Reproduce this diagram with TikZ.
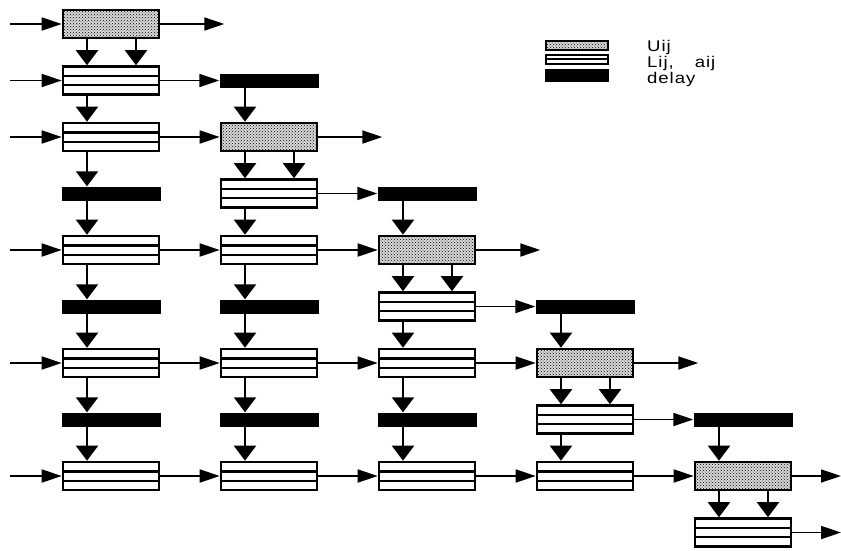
\documentclass[tikz,border=0pt]{standalone}
\usepackage{fontspec}
\setmainfont{Liberation Sans}
\newfontfamily\legendfont[LetterSpace=6,FakeStretch=1.2]{Liberation Sans}
\usetikzlibrary{arrows.meta,patterns}

\tikzset{
  blk/.style={rectangle, draw, line width=2.6pt, minimum width=96pt,
    minimum height=28pt, inner sep=0pt},
  ubox/.style={blk, fill=gray!30, postaction={pattern=crosshatch dots}},
  lbox/.style={blk, fill=white, path picture={
    \draw[line width=2.4pt] ([yshift=-9.3pt]path picture bounding box.north west)
      -- ([yshift=-9.3pt]path picture bounding box.north east);
    \draw[line width=2.4pt] ([yshift=9.3pt]path picture bounding box.south west)
      -- ([yshift=9.3pt]path picture bounding box.south east);}},
  dly/.style={rectangle, fill=black, minimum width=99pt, minimum height=14pt,
    inner sep=0pt},
  varr/.style={line width=2.2pt, -{Triangle[length=15pt,width=22pt]}},
  harr/.style={line width=1.8pt, -{Triangle[length=20pt,width=13pt]}},
  legtext/.style={anchor=base west, inner sep=0pt,
    font=\legendfont\fontsize{15.5}{18}\selectfont},
}

\begin{document}
\begin{tikzpicture}[x=1pt,y=-1pt]
\useasboundingbox (0,0) rectangle (841,550);

% U y L debajo
\foreach \c in {0,...,4}{
  \pgfmathtruncatemacro\ru{2*\c}
  \pgfmathtruncatemacro\rl{2*\c+1}
  \node[ubox] (n\c-\ru) at ({111+158*\c},{24+56.5*\ru}) {};
  \node[lbox] (n\c-\rl) at ({111+158*\c},{24+56.5*\rl}) {};
}

% resto de L
\foreach \c/\r in {0/2,0/4,0/6,0/8,1/4,1/6,1/8,2/6,2/8,3/8}
  \node[lbox] (n\c-\r) at ({111+158*\c},{24+56.5*\r}) {};

% delay
\foreach \c/\r in {1/1,2/3,3/5,4/7,0/3,0/5,0/7,1/5,1/7,2/7}
  \node[dly] (n\c-\r) at ({111+158*\c},{24+56.5*\r}) {};

% U -> L (dos flechas)
\foreach \c in {0,...,4}{
  \pgfmathtruncatemacro\ru{2*\c}
  \pgfmathtruncatemacro\rl{2*\c+1}
  \draw[varr] ([xshift=-24pt]n\c-\ru.south) -- ([xshift=-24pt]n\c-\rl.north);
  \draw[varr] ([xshift=25pt]n\c-\ru.south) -- ([xshift=25pt]n\c-\rl.north);
}

% flechas verticales
\foreach \c/\r in {0/1,0/2,0/3,0/4,0/5,0/6,0/7,1/1,1/3,1/4,1/5,1/6,1/7,
                   2/3,2/5,2/6,2/7,3/5,3/7,4/7}{
  \pgfmathtruncatemacro\rn{\r+1}
  \draw[varr] ([xshift=-24pt]n\c-\r.south) -- ([xshift=-24pt]n\c-\rn.north);
}

% flechas horizontales
\foreach \c/\r in {0/1,0/2,1/3,0/4,1/4,2/5,0/6,1/6,2/6,3/7,0/8,1/8,2/8,3/8}{
  \pgfmathtruncatemacro\cn{\c+1}
  \draw[harr] (n\c-\r.east) -- (n\cn-\r.west);
}

% entradas
\foreach \r in {0,1,2,4,6,8}{
  \coordinate (in\r) at (10,{24+56.5*\r});
  \draw[harr] (in\r) -- (n0-\r.west);
}

% salidas
\foreach \c in {0,...,3}{
  \pgfmathtruncatemacro\ru{2*\c}
  \coordinate (out\c) at ([xshift=64pt]n\c-\ru.east);
  \draw[harr] (n\c-\ru.east) -- (out\c);
}
\coordinate (out4) at (841,{24+56.5*8});
\coordinate (out5) at (841,{24+56.5*9});
\draw[harr] (n4-8.east) -- (out4);
\draw[harr] (n4-9.east) -- (out5);

% Leyenda
\node[ubox, minimum width=62pt, minimum height=9pt, line width=2pt] (leg-u) at (577,45) {};
\node[blk, fill=white, minimum width=62pt, minimum height=9pt, line width=2pt,
  path picture={\draw[line width=1.6pt] (path picture bounding box.west)
    -- (path picture bounding box.east);}] (leg-l) at (577,59) {};
\node[dly, minimum width=64pt, minimum height=13pt] (leg-d) at (577,75) {};
\node[legtext] (t-u) at (647,51) {Uij};
\node[legtext] (t-l) at (647,67) {Lij,\hspace{21pt}aij};
\node[legtext] (t-d) at (647,83) {delay};
\end{tikzpicture}
\end{document}
